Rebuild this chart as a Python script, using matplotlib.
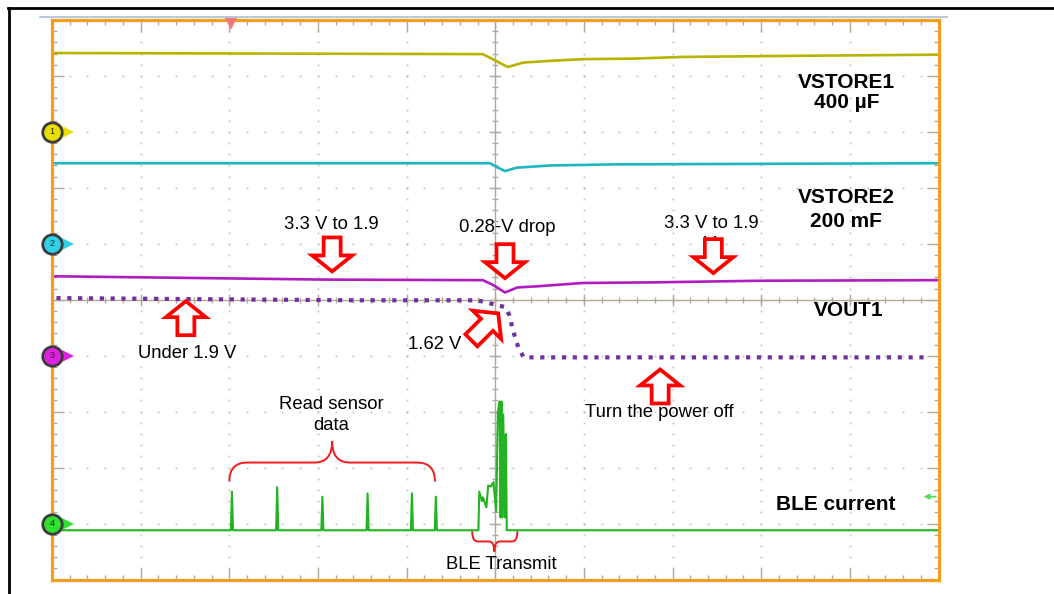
import numpy as np
import matplotlib
matplotlib.use("Agg")
import matplotlib.pyplot as plt
from matplotlib.patches import Polygon, PathPatch
from matplotlib.path import Path
from matplotlib.lines import Line2D
import matplotlib.transforms as mtransforms

plt.rcParams['font.family'] = ['Liberation Sans', 'DejaVu Sans']

# ---------------- data (time and level in scope divisions) ----------------
vstore1_t = [0.0, 4.86, 5.02, 5.14, 5.32, 5.62, 5.99, 6.56, 7.12, 8.4, 10.0]
vstore1_v = [9.41, 9.39, 9.26, 9.16, 9.24, 9.27, 9.30, 9.31, 9.34, 9.36, 9.38]

vstore2_t = [0.0, 4.94, 5.02, 5.11, 5.24, 5.62, 6.37, 10.0]
vstore2_v = [7.44, 7.44, 7.37, 7.30, 7.36, 7.40, 7.42, 7.44]

vbat_t = [0.0, 3.1, 4.86, 4.98, 5.11, 5.25, 5.47, 5.99, 6.75, 8.0, 10.0]
vbat_v = [5.42, 5.36, 5.35, 5.26, 5.13, 5.22, 5.24, 5.30, 5.31, 5.34, 5.35]

vout1_t = [0.05, 3.4, 4.8, 4.98, 5.11, 5.16, 5.20, 5.26, 5.32, 9.89]
vout1_v = [5.03, 4.99, 4.99, 4.92, 4.87, 4.72, 4.45, 4.15, 3.97, 3.97]

ble_base = 0.88
ble_spike_t = [2.03, 2.54, 3.05, 3.56, 4.06, 4.33]
ble_spike_v = [1.57, 1.65, 1.48, 1.54, 1.54, 1.48]
ble_burst_t = [4.81, 4.82, 4.85, 4.86, 4.90, 4.92, 4.95, 4.98, 4.99, 5.01, 5.03,
               5.05, 5.06, 5.07, 5.08, 5.09, 5.11, 5.12, 5.13]
ble_burst_v = [0.88, 1.57, 1.40, 1.47, 1.29, 1.68, 1.66, 1.74, 1.57, 1.22, 3.00,
               3.18, 1.11, 3.18, 1.11, 2.95, 1.11, 2.60, 0.88]

channel_ids = ['1', '2', '3', '4']
channel_offsets = [8.0, 6.0, 4.0, 1.0]
channel_colors = ['#e8df00', '#2fd3e6', '#e020e0', '#2fe02f']
trigger_pos = 2.02

# ---------------- figure ----------------
W, H = 1054, 594
fig = plt.figure(figsize=(W / 100, H / 100), dpi=100)
fig.patch.set_facecolor('white')
ax = fig.add_axes([52 / W, (H - 579.5) / H, 886.5 / W, 559.5 / H])
ax.set_xlim(0, 10)
ax.set_ylim(0, 10)

tick_col = '#b3a999'
ax.set_xticks(np.arange(0, 10.01, 1))
ax.set_yticks(np.arange(0, 10.01, 1))
ax.set_xticks(np.arange(0, 10.01, 0.2), minor=True)
ax.set_yticks(np.arange(0, 10.01, 0.2), minor=True)
ax.tick_params(which='both', direction='in', top=True, right=True,
               labelbottom=False, labelleft=False, color=tick_col, width=1.0)
ax.tick_params(which='major', length=8.5)
ax.tick_params(which='minor', length=3.6)
for s in ax.spines.values():
    s.set_color('#f59d1e')
    s.set_linewidth(2.3)
    s.set_zorder(8)

# dotted grid
minor = np.arange(0, 10.001, 0.2)
for g in range(1, 10):
    if g == 5:
        continue
    ax.plot(minor, np.full_like(minor, g), ls='none', marker='s', ms=1.3,
            mew=0, color='#c4c4c4', zorder=1)
    ax.plot(np.full_like(minor, g), minor, ls='none', marker='s', ms=1.3,
            mew=0, color='#c4c4c4', zorder=1)

# center cross with ticks
ax.axhline(5, color=tick_col, lw=1.0, zorder=1)
ax.axvline(5, color=tick_col, lw=1.0, zorder=1)
ax.plot(minor, np.full_like(minor, 5), ls='none', marker='|', ms=4.5, mew=1.0, color=tick_col, zorder=1)
ax.plot(np.full_like(minor, 5), minor, ls='none', marker='_', ms=4.5, mew=1.0, color=tick_col, zorder=1)
major = np.arange(0, 10.001, 1)
ax.plot(major, np.full_like(major, 5), ls='none', marker='|', ms=8, mew=1.0, color=tick_col, zorder=1)
ax.plot(np.full_like(major, 5), major, ls='none', marker='_', ms=8, mew=1.0, color=tick_col, zorder=1)

# ---------------- traces ----------------
ax.plot(vstore1_t, vstore1_v, color='#b7b300', lw=1.9, zorder=3)
ax.plot(vstore2_t, vstore2_v, color='#1fb6c4', lw=1.9, zorder=3)
ax.plot(vbat_t, vbat_v, color='#b01cc0', lw=1.9, zorder=3)
ax.plot(vout1_t, vout1_v, color='#7030a0', lw=3.0, ls=(0, (1, 1.6)),
        dash_capstyle='butt', zorder=4)

ble_t, ble_v = [0.0], [ble_base]
for t, v in zip(ble_spike_t, ble_spike_v):
    ble_t += [t - 0.012, t, t + 0.012]
    ble_v += [ble_base, v, ble_base]
ble_t += ble_burst_t + [10.0]
ble_v += ble_burst_v + [ble_base]
ax.plot(ble_t, ble_v, color='#22b322', lw=1.5, zorder=3)

# channel markers
for cid, off, col in zip(channel_ids, channel_offsets, channel_colors):
    ax.plot([0.18], [off], marker='>', ms=8, color=col, mew=0, zorder=9, clip_on=False)
    ax.plot([0], [off], marker='o', ms=14, mfc=col, mec='#3c3c3c', mew=2.0,
            zorder=10, clip_on=False)
    ax.text(0, off, cid, ha='center', va='center', fontsize=6.5, color='#222222',
            zorder=11, clip_on=False)

# trigger marker and right-side ground arrow
ax.plot([trigger_pos], [9.92], marker='v', ms=8, color='#f47a7a', mew=0, zorder=9, clip_on=False)
ax.annotate('', xy=(9.80, 1.48), xytext=(10.0, 1.48),
            arrowprops=dict(arrowstyle='-|>', color='#55e055', lw=1.2, mutation_scale=8),
            zorder=9)

# ---------------- annotations ----------------
def block_arrow(x, y, angle, length=36, head_len=18, head_w=40, shaft_w=17):
    hw, sw = head_w / 2, shaft_w / 2
    verts = np.array([[0, -2], [hw, -head_len], [sw, -head_len], [sw, -length],
                      [-sw, -length], [-sw, -head_len], [-hw, -head_len]]) / 100.0
    tr = (mtransforms.Affine2D().rotate_deg(angle) + fig.dpi_scale_trans
          + mtransforms.ScaledTranslation(x, y, ax.transData))
    p = Polygon(verts, closed=True, transform=tr, fc='white', ec='#ff0000',
                lw=2.7, joinstyle='miter', zorder=6, clip_on=False)
    ax.add_artist(p)

txt = dict(fontsize=13.3, color='black', ha='center', va='center', zorder=7)
bold = dict(fontsize=15, color='black', ha='center', va='center', weight='bold', zorder=7)

# hidden second-line "V"s (mostly covered by arrows)
ax.text(3.13, 5.97, 'V', fontsize=13.3, ha='center', va='center', zorder=5)
ax.text(7.42, 5.99, 'V', fontsize=13.3, ha='center', va='center', zorder=5)

block_arrow(3.16, 5.47, 180)
block_arrow(5.11, 5.35, 180)
block_arrow(7.46, 5.44, 180)
block_arrow(1.51, 5.01, 0)
block_arrow(6.86, 3.79, 0)
block_arrow(5.05, 4.78, -45, length=40)

ax.text(3.15, 6.35, '3.3 V to 1.9', **txt)
ax.text(5.14, 6.30, '0.28-V drop', **txt)
ax.text(7.44, 6.37, '3.3 V to 1.9', **txt)
ax.text(1.53, 4.04, 'Under 1.9 V', **txt)
ax.text(4.32, 4.20, '1.62 V', **txt)
ax.text(3.15, 3.13, 'Read sensor', **txt)
ax.text(3.15, 2.75, 'data', **txt)
ax.text(6.85, 2.99, 'Turn the power off', **txt)
ax.text(5.07, 0.26, 'BLE Transmit', **txt)

ax.text(8.96, 8.89, 'VSTORE1', **bold)
ax.text(8.96, 8.53, '400 µF', **bold)
ax.text(8.96, 6.82, 'VSTORE2', **bold)
ax.text(8.96, 6.39, '200 mF', **bold)
ax.text(8.99, 4.81, 'VOUT1', **bold)
ax.text(8.84, 1.34, 'BLE current', **bold)

# braces
def brace(x0, x1, xm, y_end, y_mid, y_tip, xr):
    verts = [(x0, y_end), (x0, y_mid), (x0 + xr, y_mid),
             (xm - xr, y_mid), (xm, y_mid), (xm, y_tip),
             (xm, y_mid), (xm + xr, y_mid),
             (x1 - xr, y_mid), (x1, y_mid), (x1, y_end)]
    codes = [Path.MOVETO, Path.CURVE3, Path.CURVE3,
             Path.LINETO, Path.CURVE3, Path.CURVE3,
             Path.CURVE3, Path.CURVE3,
             Path.LINETO, Path.CURVE3, Path.CURVE3]
    ax.add_patch(PathPatch(Path(verts, codes), fc='none', ec='#ee1c1c', lw=1.4, zorder=6,
                           clip_on=False))

brace(2.0, 4.32, 3.16, 1.75, 2.09, 2.47, 0.2)
brace(4.74, 5.25, 4.99, 0.86, 0.68, 0.50, 0.06)

# ---------------- frame lines ----------------
fig.add_artist(Line2D([40 / W, 947 / W], [1 - 17 / H, 1 - 17 / H], transform=fig.transFigure,
                      color='#a9bcd8', lw=1.2))
fig.add_artist(Line2D([8 / W, 1.0], [1 - 7.5 / H, 1 - 7.5 / H], transform=fig.transFigure,
                      color='black', lw=2.0))
fig.add_artist(Line2D([8.5 / W, 8.5 / W], [0.0, 1 - 7.5 / H], transform=fig.transFigure,
                      color='black', lw=2.0))

fig.savefig('out.png', dpi=100, facecolor='white')
